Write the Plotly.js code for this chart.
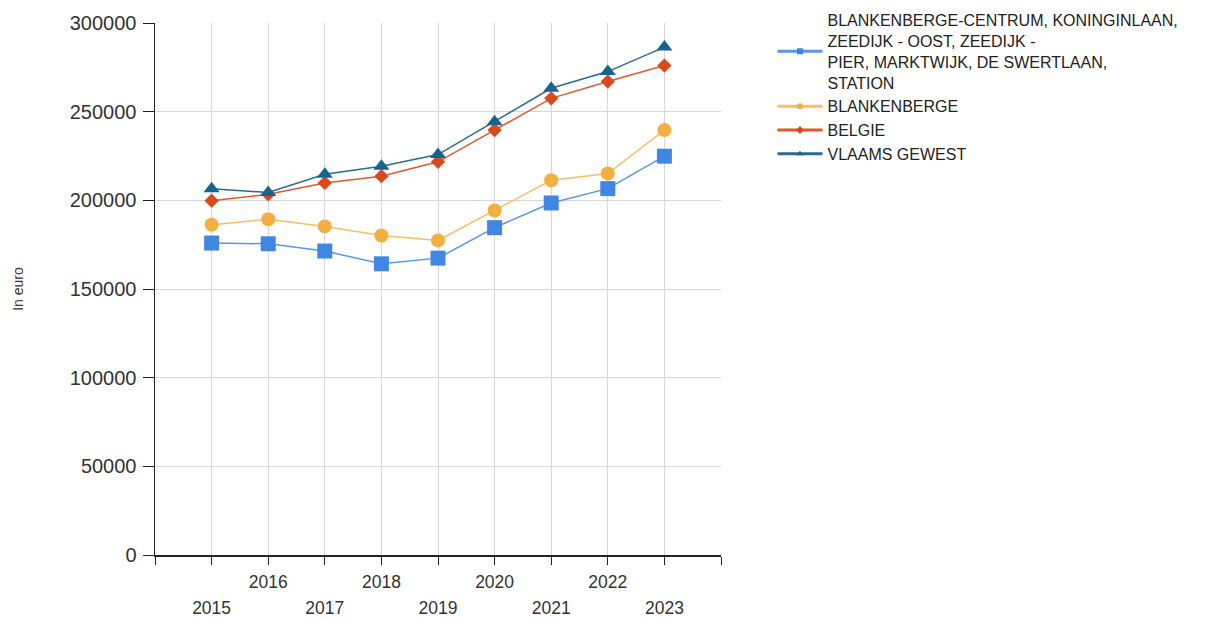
<!DOCTYPE html>
<html>
<head>
<meta charset="utf-8">
<script src="https://cdn.plot.ly/plotly-3.0.1.min.js"></script>
<style>html,body{margin:0;padding:0;background:#fff;}#chart{width:1232px;height:619px;}</style>
</head>
<body>
<div id="chart"></div>
<script>
const years = [2015, 2016, 2017, 2018, 2019, 2020, 2021, 2022, 2023];
const seriesNames = [
  "BLANKENBERGE-CENTRUM, KONINGINLAAN,<br>ZEEDIJK - OOST, ZEEDIJK -<br>PIER, MARKTWIJK, DE SWERTLAAN,<br>STATION",
  "BLANKENBERGE",
  "BELGIE",
  "VLAAMS GEWEST"
];
const centrum = [175900, 175500, 171400, 164200, 167400, 184600, 198500, 206600, 224900];
const blankenberge = [186300, 189300, 185300, 180200, 177400, 194300, 211300, 215100, 239600];
const belgie = [199800, 203400, 209800, 213600, 221700, 239600, 257500, 267000, 276000];
const vlaams = [206600, 204400, 214700, 219200, 225800, 244300, 263200, 272600, 286400];
const yTicks = [0, 50000, 100000, 150000, 200000, 250000, 300000];
const evenLabels = ["", "2016", "", "2018", "", "2020", "", "2022", ""];
const oddYears = [2015, 2017, 2019, 2021, 2023];

const values = [centrum, blankenberge, belgie, vlaams];
const colors = ["#3f87e3", "#f5ae40", "#d9491b", "#15648f"];
const lineColors = ["#5c95e0", "#f5bf6a", "#dc5a30", "#2a6b8f"];
const symbols = ["square", "circle", "diamond", "triangle-up"];
const sizes = [15, 14, 11, 14];

const traces = [];
values.forEach((v, i) => {
  traces.push({
    x: years, y: v, type: "scatter", mode: "lines+markers",
    name: seriesNames[i], showlegend: false,
    line: {color: lineColors[i], width: 1.5},
    marker: {color: colors[i], symbol: symbols[i], size: sizes[i]},
    hoverinfo: "x+y"
  });
});
values.forEach((v, i) => {
  traces.push({
    x: [null], y: [null], xaxis: "x2", type: "scatter", mode: "lines+markers",
    name: seriesNames[i], showlegend: true,
    line: {color: lineColors[i], width: 3},
    marker: {color: colors[i], symbol: symbols[i], size: 6}
  });
});

const fam = "Liberation Sans, Arial, sans-serif";
const layout = {
  width: 1232, height: 619,
  paper_bgcolor: "#fff", plot_bgcolor: "#fff",
  margin: {l: 155, r: 511, t: 23, b: 64, autoexpand: false},
  font: {family: fam, color: "#333"},
  showlegend: true,
  legend: {
    xref: "container", yref: "container", x: 0.627, y: 0.995,
    xanchor: "left", yanchor: "top",
    font: {family: fam, size: 16, color: "#222"},
    itemwidth: 45, bgcolor: "rgba(0,0,0,0)", tracegroupgap: 0
  },
  xaxis: {
    range: [2014, 2024], tickmode: "array", tickvals: years, ticktext: evenLabels,
    ticks: "outside", ticklen: 8, tickcolor: "#222", showline: true, linecolor: "#222", linewidth: 1.5,
    showgrid: true, gridcolor: "#d6d6d6", gridwidth: 1, zeroline: false, ticklabelstandoff: 2,
    tickfont: {family: fam, size: 17.5, color: "#333"},
    minor: {tickmode: "array", tickvals: [2014, 2024], ticks: "outside", ticklen: 8, tickcolor: "#222", showgrid: false},
    fixedrange: true
  },
  xaxis2: {
    overlaying: "x", matches: "x", side: "bottom", anchor: "y",
    range: [2014, 2024], tickmode: "array", tickvals: oddYears, ticktext: oddYears.map(String),
    ticks: "", showline: false, showgrid: false, zeroline: false, ticklabelstandoff: 40,
    tickfont: {family: fam, size: 17.5, color: "#333"}
  },
  yaxis: {
    range: [0, 300000], tickmode: "array", tickvals: yTicks, tickformat: "d",
    ticks: "outside", ticklen: 11, tickcolor: "#222", showline: true, linecolor: "#222", linewidth: 1.5,
    showgrid: true, gridcolor: "#d6d6d6", gridwidth: 1, zeroline: false, ticklabelstandoff: 2,
    tickfont: {family: fam, size: 20, color: "#333"},
    title: {text: "In euro", font: {family: fam, size: 14, color: "#333"}, standoff: 43},
    fixedrange: true
  }
};
Plotly.newPlot("chart", traces, layout, {displayModeBar: false, staticPlot: true});
</script>
</body>
</html>
